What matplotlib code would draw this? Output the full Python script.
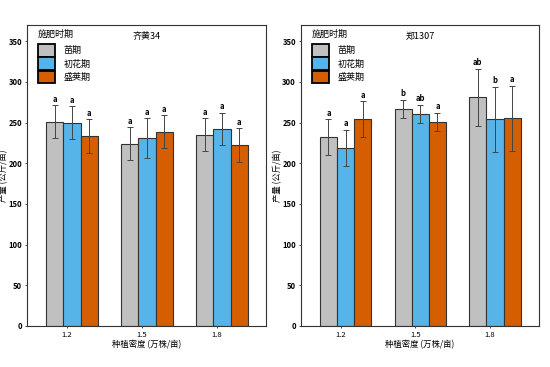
import numpy as np
import matplotlib
matplotlib.use('Agg')
import matplotlib.pyplot as plt
from matplotlib.patches import Patch

plt.rcParams['font.family'] = ['Noto Sans CJK SC', 'DejaVu Sans']

densities = ['1.2', '1.5', '1.8']
stages = ['苗期', '初花期', '盛荚期']
colors = ['#c0c0c0', '#56b4e9', '#d55e00']

# 齐黄34
qh_mean = [[251, 224, 235], [250, 231, 242], [233, 239, 222]]
qh_err = [[20, 20, 20], [20, 24, 20], [21, 20, 21]]
qh_sig = [['a', 'a', 'a'], ['a', 'a', 'a'], ['a', 'a', 'a']]

# 郑1307
zh_mean = [[232, 267, 281], [219, 261, 254], [254, 251, 255]]
zh_err = [[22, 11, 35], [22, 11, 40], [22, 11, 40]]
zh_sig = [['a', 'b', 'ab'], ['a', 'ab', 'b'], ['a', 'a', 'a']]

fig = plt.figure(figsize=(5.5, 3.67), dpi=100)
ax1 = fig.add_axes([0.049, 0.112, 0.435, 0.82])
ax2 = fig.add_axes([0.547, 0.112, 0.433, 0.82])

x = np.arange(len(densities))
w = 0.23


def panel(ax, means, errs, sigs, title):
    for i in range(3):
        pos = x + (i - 1) * w
        ax.bar(pos, means[i], w, color=colors[i], edgecolor='#333333', linewidth=0.8,
               yerr=errs[i], error_kw=dict(ecolor='#444444', elinewidth=0.7, capsize=2.5, capthick=0.7))
        for p, m, e, s in zip(pos, means[i], errs[i], sigs[i]):
            ax.text(p, m + e + 2, s, ha='center', va='bottom', fontsize=5.5, fontweight='bold')
    ax.set_ylim(0, 370)
    ax.set_xlim(-0.6, 2.59)
    ax.set_yticks(range(0, 351, 50))
    ax.set_xticks(x - 0.067)
    ax.set_xticklabels(densities)
    ax.tick_params(axis='both', labelsize=5.5, length=1.5, width=0.5, pad=2)
    for lab in ax.get_yticklabels():
        lab.set_fontweight('bold')
    ax.set_xlabel('种植密度 (万株/亩)', fontsize=6, labelpad=1)
    ax.set_ylabel('产量 (公斤/亩)', fontsize=6, labelpad=0)
    ax.text(0.5, 0.975, title, transform=ax.transAxes, ha='center', va='top', fontsize=6.5)
    for sp in ax.spines.values():
        sp.set_color('#333333')
        sp.set_linewidth(0.8)
    handles = [Patch(facecolor=c, edgecolor='black', linewidth=1.3) for c in colors]
    leg = ax.legend(handles, stages, title='施肥时期', loc='upper left', frameon=False,
                    bbox_to_anchor=(0.045, 0.985), borderaxespad=0, borderpad=0,
                    fontsize=6.5, title_fontsize=6.5, handlelength=1.9, handleheight=1.75,
                    handletextpad=1.0, labelspacing=0.08)
    leg._legend_box.align = 'left'
    leg._legend_box.sep = 4


panel(ax1, qh_mean, qh_err, qh_sig, '齐黄34')
panel(ax2, zh_mean, zh_err, zh_sig, '郑1307')

fig.savefig('out.png', dpi=100)
